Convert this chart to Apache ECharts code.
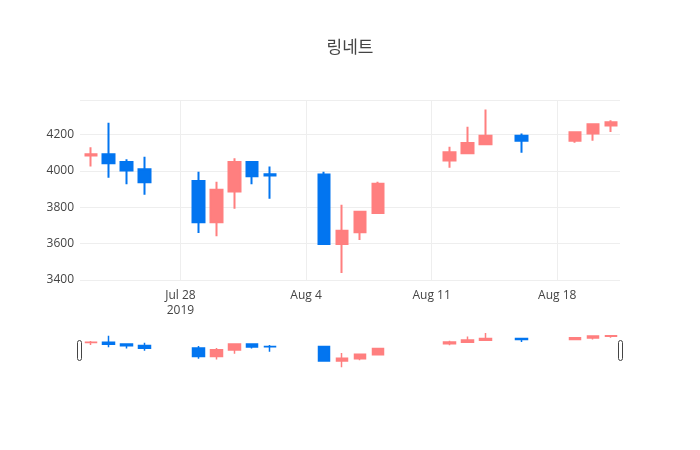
<!DOCTYPE html>
<html><head><meta charset="utf-8">
<script src="https://cdn.jsdelivr.net/npm/echarts@6/dist/echarts.min.js"></script>
<style>html,body{margin:0;padding:0;background:#fff}#c{width:700px;height:450px}</style>
</head><body><div id="c"></div>
<script>
// day offsets relative to 2019-07-28
const days = [-5,-4,-3,-2,1,2,3,4,5,8,9,10,11,15,16,17,19,22,23,24];
const opens  = [4085,4091,4049,4009,3945,3717,3887,4049,3982,3980,3598,3662,3768,4057,4097,4146,4194,4166,4206,4250];
const closes = [4092,4042,4002,3938,3717,3896,4049,3971,3975,3598,3671,3776,3929,4102,4153,4194,4166,4212,4256,4268];
const lows   = [4024,3963,3927,3869,3659,3640,3792,3927,3847,3598,3439,3620,3768,4018,4097,4146,4100,4155,4166,4214];
const highs  = [4130,4265,4064,4078,3996,3940,4069,4049,4024,3995,3814,3780,3940,4133,4243,4338,4206,4212,4262,4279];
const tickDays = [0,7,14,21];
const tickLabels = {0:'Jul 28\n2019',7:'Aug 4',14:'Aug 11',21:'Aug 18'};
const data = days.map((d,i)=>[d,opens[i],closes[i],lows[i],highs[i]]);
const UP='#ff7f7f', DOWN='#0275f0';
const xmin=-5.6, xmax=24.5;
const chart = echarts.init(document.getElementById('c'));
const style={color:UP,color0:DOWN,borderColor:UP,borderColor0:DOWN,borderWidth:2};
chart.setOption({
  animation:false,
  title:{text:'링네트',left:'center',top:33,textStyle:{fontFamily:'Noto Sans CJK KR',fontSize:17,fontWeight:'normal',color:'#444'}},
  grid:[{left:80,right:80,top:100,height:180},{left:80,right:80,top:331,height:38}],
  xAxis:[
    {type:'value',gridIndex:0,min:xmin,max:xmax,interval:1.4,
     axisLine:{show:false},axisTick:{show:false},splitLine:{show:false},
     axisLabel:{showMinLabel:false,showMaxLabel:false,color:'#444',fontSize:12,fontFamily:'Open Sans',lineHeight:15,margin:8,
       formatter:v=>tickLabels[Math.round(v*10)/10]||''}},
    {type:'value',gridIndex:1,min:xmin,max:xmax,show:false}
  ],
  yAxis:[
    {type:'value',gridIndex:0,min:3400,max:4390,interval:200,
     axisLine:{show:false},axisTick:{show:false},
     splitLine:{lineStyle:{color:'#eee'}},
     axisLabel:{showMaxLabel:false,color:'#444',fontSize:12,fontFamily:'Open Sans',margin:6,formatter:v=>String(v)}},
    {type:'value',gridIndex:1,min:3390,max:4390,show:false}
  ],
  series:[
    {type:'candlestick',xAxisIndex:0,yAxisIndex:0,data:data,barWidth:12,itemStyle:style,encode:{x:0,y:[1,2,3,4]},
     markLine:{silent:true,symbol:'none',label:{show:false},lineStyle:{color:'#eee',type:'solid',width:1},
       data:tickDays.map(d=>({xAxis:d}))}},
    {type:'candlestick',xAxisIndex:1,yAxisIndex:1,data:data,barWidth:12,itemStyle:Object.assign({},style,{borderWidth:1.5}),encode:{x:0,y:[1,2,3,4]}}
  ],
  graphic:[
    {type:'rect',left:77,top:340,shape:{width:4,height:20,r:2},style:{fill:'#fff',stroke:'#444',lineWidth:1}},
    {type:'rect',left:618,top:340,shape:{width:4,height:20,r:2},style:{fill:'#fff',stroke:'#444',lineWidth:1}}
  ]
});
</script></body></html>
